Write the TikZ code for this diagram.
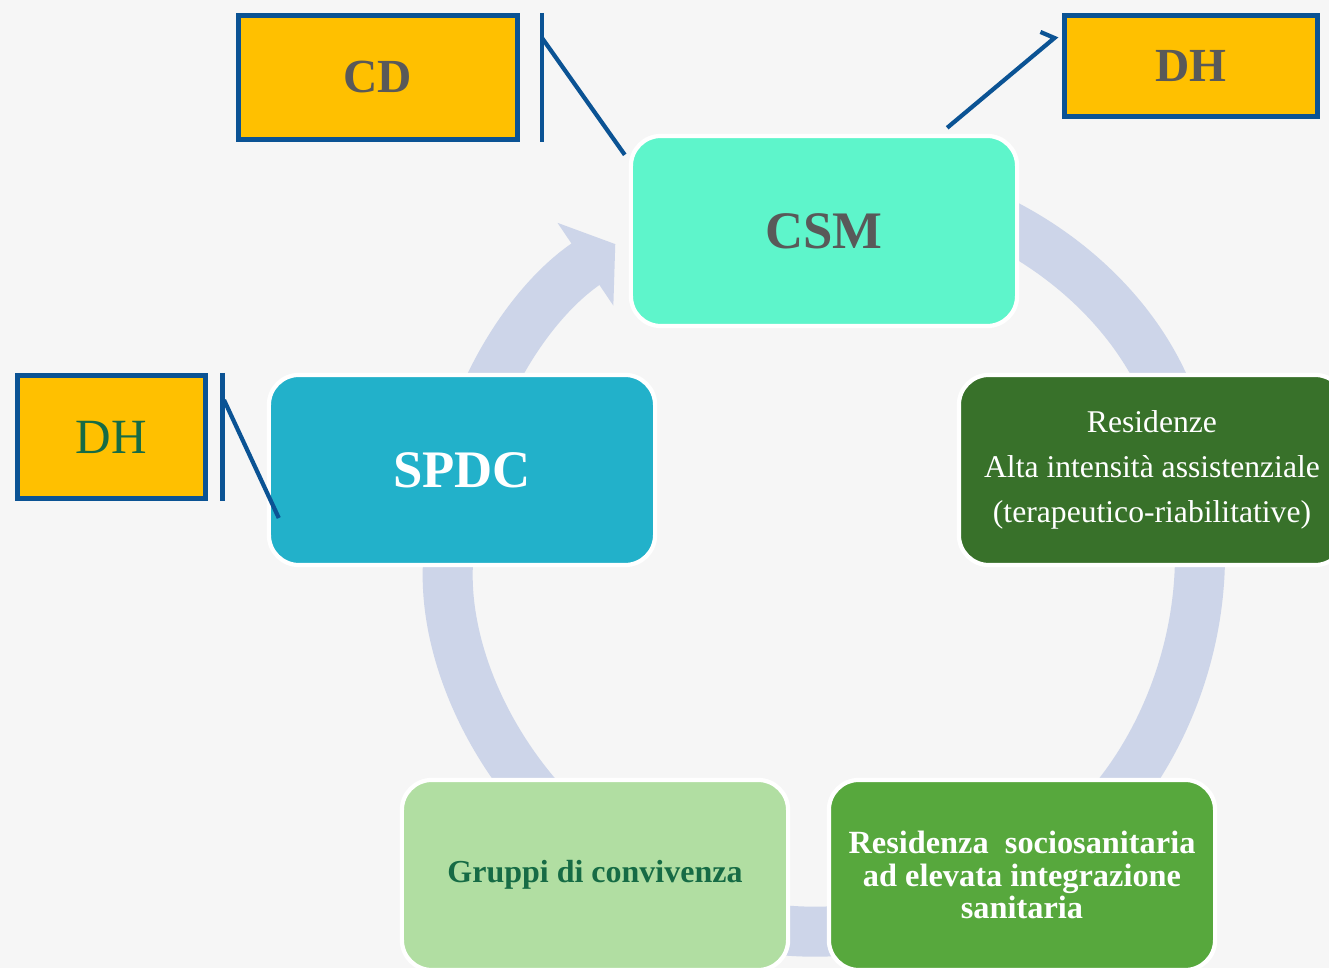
\documentclass[tikz,border=0pt]{standalone}
\usepackage{fontspec}
\setmainfont{Liberation Serif}
\usetikzlibrary{arrows.meta}

\definecolor{bggray}{HTML}{F6F6F6}
\definecolor{tagyellow}{HTML}{FFC000}
\definecolor{tagblue}{HTML}{0B5394}
\definecolor{ringblue}{HTML}{CDD5E9}
\definecolor{csmgreen}{HTML}{5EF5CB}
\definecolor{spdcblue}{HTML}{22B1CA}
\definecolor{residgreen}{HTML}{38712A}
\definecolor{rsagreen}{HTML}{57A83D}
\definecolor{gruppigreen}{HTML}{B1DEA2}
\definecolor{textgray}{HTML}{595959}
\definecolor{textgreen}{HTML}{166B45}

\begin{document}
\begin{tikzpicture}[x=0.01cm, y=-0.01cm,
	stage/.style={rounded corners=0.3cm, draw=white, line width=1.2pt, minimum width=3.86cm, minimum height=1.9cm, align=center, inner sep=0pt},
	tag/.style={fill=tagyellow, draw=tagblue, line width=1.4pt, inner sep=0pt},
	callout/.style={draw=tagblue, line width=1.2pt},
	ring/.style={draw=ringblue, line width=0.5cm, -{Triangle[width=0.98cm,length=0.36cm]}}]
	\fill[bggray] (0,0) rectangle (1329,968);
	\useasboundingbox (0,0) rectangle (1329,968);
	% cycle ring behind the boxes
	\coordinate (hub) at (825,555);
	\foreach \a/\b in {190/236, 268/345, 0/60, 70/110, 125/185} {\draw[ring] (hub) ++(\a:375) arc[start angle=\a, end angle=\b, radius=375];}
	% stages
	\node[stage, fill=csmgreen, text=textgray, font=\bfseries\fontsize{15}{18}\selectfont] (csm) at (824,231) {CSM};
	\node[stage, fill=spdcblue, text=white, font=\bfseries\fontsize{15}{18}\selectfont] (spdc) at (462,470) {SPDC};
	\node[stage, fill=residgreen, text=white, font=\fontsize{9}{12.8}\selectfont] (resid) at (1152,470) {Residenze\\Alta intensità assistenziale\\(terapeutico-riabilitative)};
	\node[stage, fill=rsagreen, text=white, font=\bfseries\fontsize{9.2}{9.3}\selectfont] (rsa) at (1022,875) {Residenza\ \ sociosanitaria\\ad elevata integrazione\\sanitaria};
	\node[stage, fill=gruppigreen, text=textgreen, font=\bfseries\fontsize{9.1}{11}\selectfont] (gruppi) at (595,875) {Gruppi di convivenza};
	% tags
	\node[tag, minimum width=2.79cm, minimum height=1.24cm, text=textgray, font=\bfseries\fontsize{13.5}{16}\selectfont] (cd) at (378,77.5) {CD};
	\node[tag, minimum width=2.53cm, minimum height=1.01cm, text=textgray, font=\bfseries\fontsize{13.5}{16}\selectfont] (dhtop) at (1191,66) {DH};
	\node[tag, minimum width=1.88cm, minimum height=1.23cm, text=textgreen, font=\fontsize{14}{16}\selectfont] (dhleft) at (111.5,437) {DH};
	% callout lines
	\draw[callout] ([xshift=0.22cm]cd.north east) -- ([xshift=0.22cm]cd.south east);
	\draw[callout] ([xshift=0.22cm, yshift=-0.25cm]cd.north east) -- ([xshift=-0.04cm, yshift=-0.21cm]csm.north west);
	\draw[callout] ([xshift=-0.72cm, yshift=0.06cm]csm.north east) -- ([xshift=-0.075cm, yshift=0.28cm]dhtop.west) -- ++(-14,-6);
	\draw[callout] ([xshift=0.145cm]dhleft.north east) -- ([xshift=0.145cm]dhleft.south east);
	\draw[callout] ([xshift=0.16cm, yshift=-0.27cm]dhleft.north east) -- ([xshift=0.12cm, yshift=-0.48cm]spdc.west);
\end{tikzpicture}
\end{document}
